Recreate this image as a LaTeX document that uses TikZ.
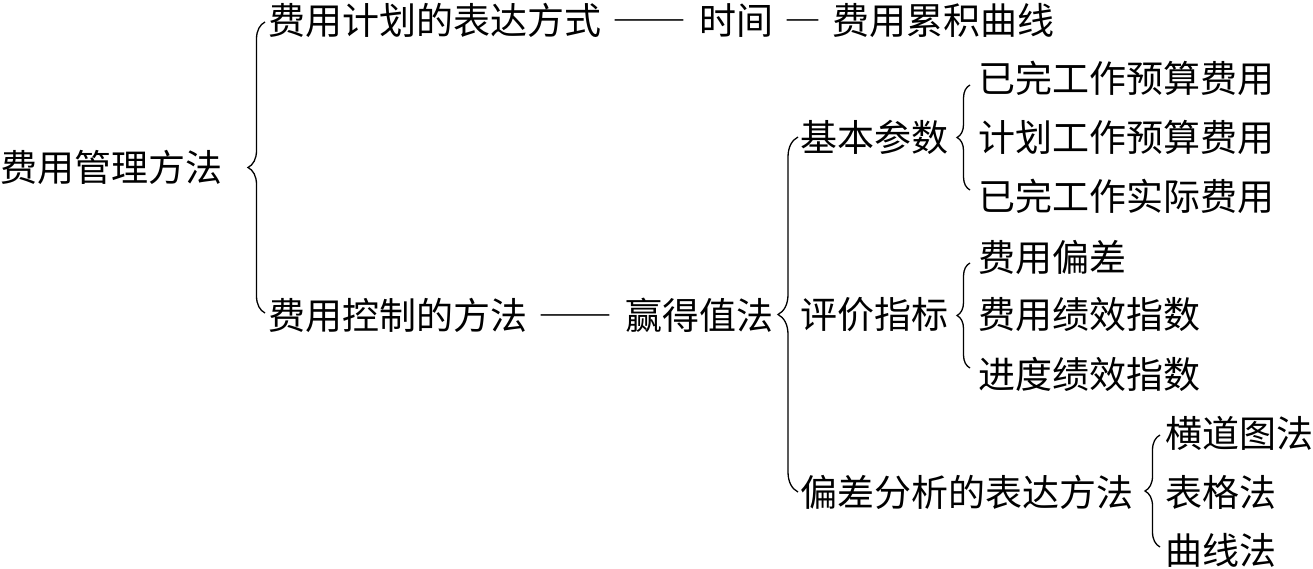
\documentclass[tikz,border=0pt]{standalone}
\usepackage{fontspec}
\setmainfont{Noto Sans CJK SC}
\usetikzlibrary{decorations.pathreplacing}
\newcommand{\fwdash}[1]{{\addfontfeature{RawFeature=+fwid}#1}}

\begin{document}
\begin{tikzpicture}[x=1pt, y=-1pt,
    item/.style={anchor=west, inner sep=0pt, font=\fontsize{37}{40}\selectfont},
    group brace/.style={decorate, decoration={brace, amplitude=#1}, line width=1.3pt},
    group brace/.default=14pt
  ]
  \def\lone{268}
  \def\ltwo{800}
  \def\lthree{978}
  \def\lfour{1165}
  \useasboundingbox (0,0) rectangle (1313,569);

  \node [item] (root) at (0,167) {费用管理方法};
  \node [item] (plan) at (\lone,20) {费用计划的表达方式\hspace{0.3em}\fwdash{——}\hspace{0.35em}时间\hspace{0.3em}\fwdash{—}\hspace{0.3em}费用累积曲线};
  \node [item] (ctrl) at (\lone,315) {费用控制的方法\hspace{0.3em}\fwdash{——}\hspace{0.35em}赢得值法};

  \node [item] (basic) at (\ltwo,137) {基本参数};
  \node [item] (eval) at (\ltwo,315) {评价指标};
  \node [item] (dev) at (\ltwo,492) {偏差分析的表达方法};

  \node [item] (bcwp) at (\lthree,78) {已完工作预算费用};
  \node [item] (bcws) at (\lthree,137) {计划工作预算费用};
  \node [item] (acwp) at (\lthree,196) {已完工作实际费用};
  \node [item] (cv) at (\lthree,257) {费用偏差};
  \node [item] (cpi) at (\lthree,315) {费用绩效指数};
  \node [item] (spi) at (\lthree,374) {进度绩效指数};
  \node [item] (bar) at (\lfour,433) {横道图法};
  \node [item] (table) at (\lfour,492) {表格法};
  \node [item] (curve) at (\lfour,550) {曲线法};

  \draw [group brace=17pt] ([shift={(-3,-2)}]ctrl.west) -- ([shift={(-3,2)}]plan.west);
  \draw [group brace=20pt] ([shift={(-2,0)}]dev.west) -- ([shift={(-2,0)}]basic.west);
  \draw [group brace=13pt] ([shift={(-8,-6)}]acwp.west) -- ([shift={(-8,7)}]bcwp.west);
  \draw [group brace=13pt] ([shift={(-8,-6)}]spi.west) -- ([shift={(-8,6)}]cv.west);
  \draw [group brace=15pt] ([shift={(-5,-3)}]curve.west) -- ([shift={(-5,2)}]bar.west);
\end{tikzpicture}
\end{document}
